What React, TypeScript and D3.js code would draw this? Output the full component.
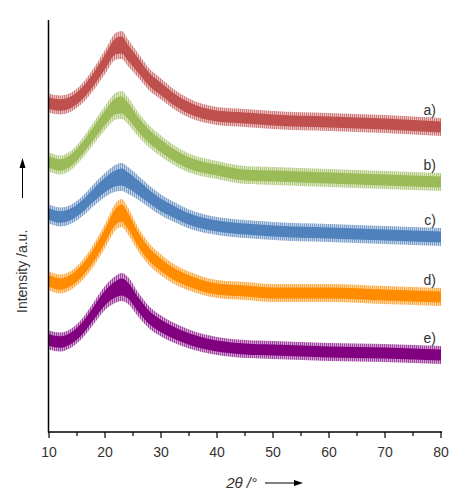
import React from "react";
import * as d3 from "d3";

const twoTheta = [10, 12, 14, 16, 18, 20, 22, 23, 24, 26, 28, 30, 32, 35, 40, 45, 50, 60, 70, 80];
const seriesA = [3290, 3270, 3300, 3390, 3530, 3700, 3860, 3870, 3800, 3660, 3520, 3430, 3340, 3240, 3160, 3140, 3120, 3100, 3080, 3050];
const seriesB = [2700, 2670, 2720, 2840, 2990, 3140, 3260, 3270, 3220, 3070, 2950, 2860, 2780, 2690, 2620, 2570, 2560, 2540, 2520, 2500];
const seriesC = [2180, 2150, 2180, 2260, 2370, 2470, 2540, 2550, 2520, 2440, 2350, 2270, 2210, 2130, 2060, 2030, 2010, 1990, 1970, 1950];
const seriesD = [1510, 1480, 1520, 1620, 1770, 1960, 2160, 2190, 2120, 1920, 1770, 1670, 1590, 1510, 1430, 1410, 1390, 1390, 1370, 1350];
const seriesE = [920, 900, 940, 1040, 1190, 1340, 1430, 1450, 1420, 1270, 1140, 1060, 1000, 930, 860, 830, 820, 800, 790, 770];
const noiseAmplitude = [95, 95, 95, 100, 110, 120, 135, 140, 135, 120, 110, 105, 100, 95, 90, 90, 90, 90, 90, 90];
const labels = ["a)", "b)", "c)", "d)", "e)"];
const colors = ["#c0504d", "#9bbb59", "#4f81bd", "#ff8c00", "#800080"];
const xTicks = [10, 20, 30, 40, 50, 60, 70, 80];
const xMinorTicks = [15, 25, 35, 45, 55, 65, 75];

const allSeries = [seriesA, seriesB, seriesC, seriesD, seriesE];

export default function App() {
  const W = 464, H = 497;
  const x = d3.scaleLinear().domain([10, 80]).range([49, 441]);
  const y = d3.scaleLinear().domain([0, 4120]).range([432, 20]);
  const axisY = 432;
  const font = "Arial, 'Liberation Sans', sans-serif";

  const makeArea = (vals: number[], k: number) =>
    d3.area<number>()
      .x((_, i) => x(twoTheta[i]))
      .y0((v, i) => y(v - noiseAmplitude[i] * k))
      .y1((v, i) => y(v + noiseAmplitude[i] * k))
      .curve(d3.curveMonotoneX)(vals) || "";

  return (
    <svg width={W} height={H} style={{ position: "absolute", left: 0, top: 0, background: "#fff" }}>
      <defs>
        {colors.map((c, i) => (
          <pattern key={i} id={`stripe${i}`} width={2} height={3} patternUnits="userSpaceOnUse">
            <rect x={0} y={0} width={2} height={3} fill={c} opacity={0.35} />
            <rect x={0} y={0} width={1} height={3} fill={c} opacity={0.6} />
          </pattern>
        ))}
      </defs>
      {allSeries.map((s, i) => (
        <g key={i}>
          <path d={makeArea(s, 1)} fill={`url(#stripe${i})`} />
          <path d={makeArea(s, 0.6)} fill={colors[i]} />
        </g>
      ))}
      {allSeries.map((s, i) => (
        <text key={i} x={436} y={y(s[s.length - 1]) - 12} textAnchor="end" fontFamily={font} fontSize={14} fill="#333">
          {labels[i]}
        </text>
      ))}
      {/* axes */}
      <line x1={48.5} x2={48.5} y1={20} y2={axisY + 0.5} stroke="#000" strokeWidth={1.5} />
      <line x1={48} x2={442} y1={axisY} y2={axisY} stroke="#000" strokeWidth={1.5} />
      {xTicks.map((t) => (
        <g key={t}>
          <line x1={x(t)} x2={x(t)} y1={axisY} y2={axisY + 6} stroke="#000" strokeWidth={1.2} />
          <text x={x(t)} y={axisY + 25} textAnchor="middle" fontFamily={font} fontSize={14} fill="#333">
            {t}
          </text>
        </g>
      ))}
      {xMinorTicks.map((t) => (
        <line key={t} x1={x(t)} x2={x(t)} y1={axisY} y2={axisY + 4} stroke="#000" strokeWidth={1.2} />
      ))}
      {/* x label */}
      <text x={257} y={488} textAnchor="end" fontFamily={font} fontSize={15} fill="#333" fontStyle="italic">
        2θ /°
      </text>
      <line x1={265} x2={296} y1={483} y2={483} stroke="#000" strokeWidth={1} />
      <path d="M294,480 L303,483 L294,486 Z" fill="#000" />
      {/* y label */}
      <text transform="translate(27,313) rotate(-90)" textAnchor="start" fontFamily={font} fontSize={14} fill="#333">
        Intensity /a.u.
      </text>
      <line x1={22.5} x2={22.5} y1={198} y2={166} stroke="#000" strokeWidth={1} />
      <path d="M19.5,168 L22.5,158 L25.5,168 Z" fill="#000" />
    </svg>
  );
}
